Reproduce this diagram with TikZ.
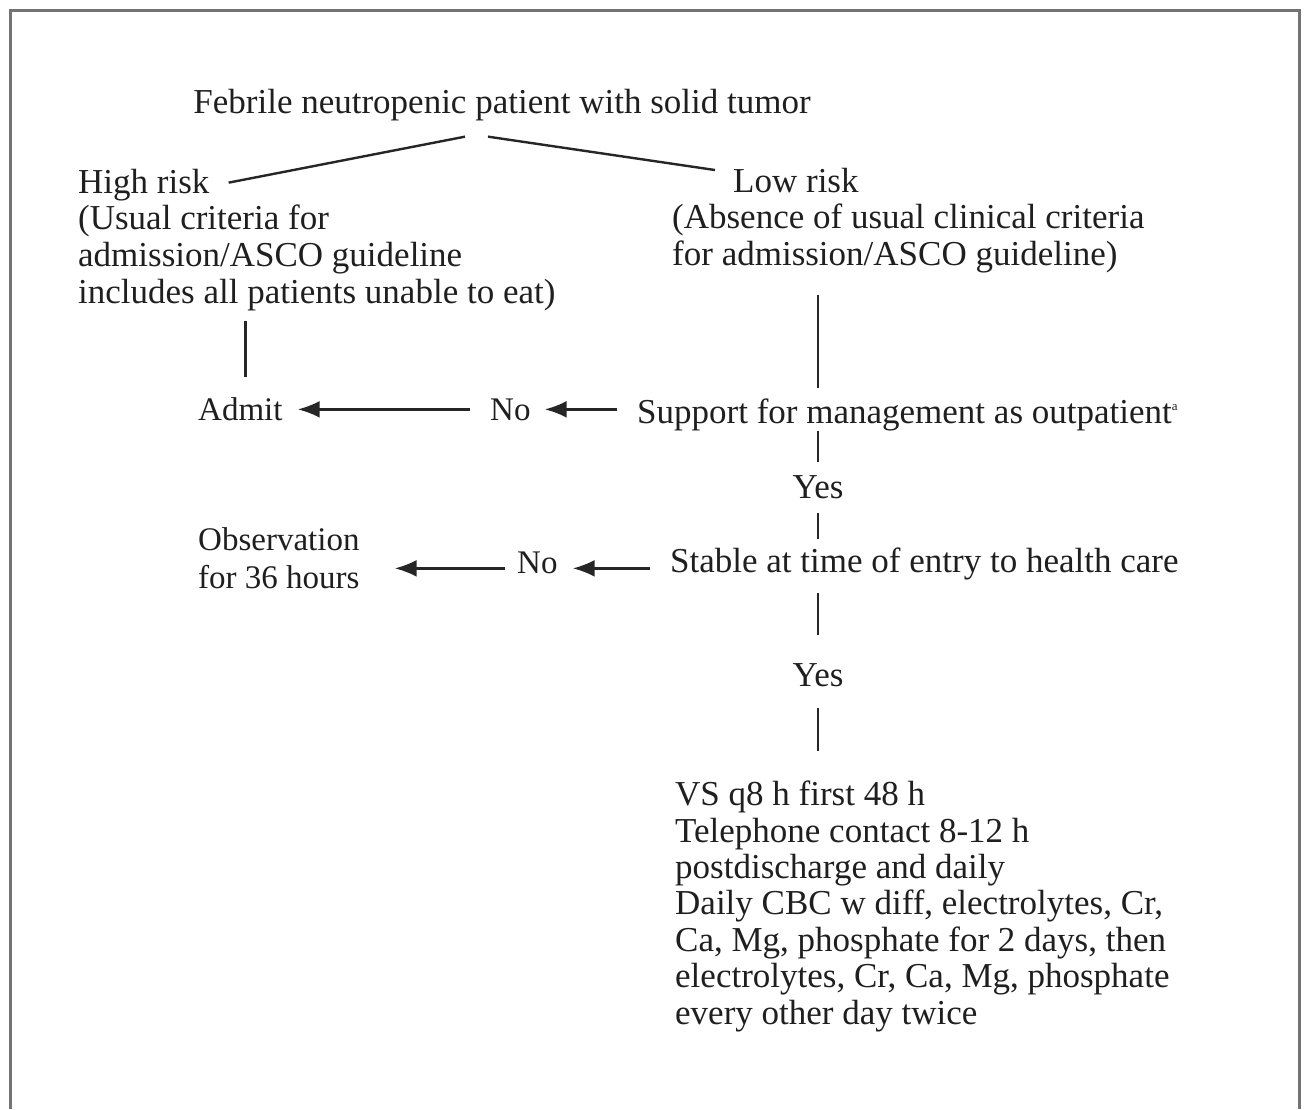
\documentclass[tikz,border=0pt]{standalone}
\usepackage{fontspec}
\setmainfont{Liberation Serif}
\usetikzlibrary{positioning,calc,arrows.meta}

\begin{document}
\begin{tikzpicture}[x=1pt,y=-1pt,
    txt/.style={inner sep=0pt,font=\fontsize{35}{36.8}\selectfont,text=black!88},
    blk/.style={txt,align=left,anchor=base west},
    lbl/.style={inner sep=0pt,font=\fontsize{33}{37.5}\selectfont,text=black!88,anchor=base west},
    link/.style={line width=2.4pt,black!85},
    arr/.style={link,-{Latex[length=22pt,width=17pt]}}]
    \useasboundingbox (0,0) rectangle (1306,1109);
    % frame
    \draw[line width=3pt,black!55] (10,1109) -- (10,10) -- (1299,10) -- (1299,1109);
    % risk split (multi-line nodes sit on their last baseline)
    \node[txt,anchor=base] (patient) at (502,113) {Febrile neutropenic patient with solid tumor};
    \node[blk] (high) at (78,193) {High risk};
    \node[blk] (highcrit) at (78,303) {(Usual criteria for\\admission/ASCO guideline\\includes all patients unable to eat)};
    \node[blk] (low) at (733,192) {Low risk};
    \node[blk] (lowcrit) at (672,265) {(Absence of usual clinical criteria\\for admission/ASCO guideline)};
    % decisions
    \node[blk] (support) at (637,423) {Support for management as outpatient\raisebox{13pt}{\fontsize{13}{13}\selectfont a}};
    \node[lbl] (no1) at (490,420) {No};
    \node[lbl] (admit) at (198,420) {Admit};
    \node[txt,anchor=base] (yes1) at (818,498) {Yes};
    \node[blk] (stable) at (670,572) {Stable at time of entry to health care};
    \node[lbl] (no2) at (517,573) {No};
    \node[lbl,align=left] (obs) at (198,588) {Observation\\for 36 hours};
    \node[txt,anchor=base] (yes2) at (818,686) {Yes};
    \node[blk,font=\fontsize{35}{36.4}\selectfont] (followup) at (675,1024) {VS q8 h first 48 h\\Telephone contact 8-12 h\\postdischarge and daily\\Daily CBC w diff, electrolytes, Cr,\\Ca, Mg, phosphate for 2 days, then\\electrolytes, Cr, Ca, Mg, phosphate\\every other day twice};
    % connectors
    \draw[link] ([shift={(-37,16)}]patient.south) -- ([shift={(19,-2)}]high.east);
    \draw[link] ([shift={(-14,16)}]patient.south) -- ([shift={(-18,-10)}]low.west);
    \draw[link] ($(admit |- highcrit.south)+(5,10)$) -- ($(admit.north)+(5,-20)$);
    \draw[link] ($(yes1 |- lowcrit.south)+(0,22)$) -- ($(yes1 |- support.north)+(0,-10)$);
    \draw[link] (yes1 |- support.south) -- ($(yes1.north)+(0,-13)$);
    \draw[link] ($(yes1.south)+(0,14)$) -- ($(yes1 |- stable.north)+(0,-8)$);
    \draw[link] ($(yes2 |- stable.south)+(0,13)$) -- ($(yes2.north)+(0,-28)$);
    \draw[link] ($(yes2.south)+(0,21)$) -- ($(yes2 |- followup.north)+(0,-30)$);
    % no branches
    \draw[arr] ($(support.west |- no1.east)+(-20,0)$) -- ($(no1.east)+(14,0)$);
    \draw[arr] ($(no1.west)+(-20,0)$) -- ($(admit.east |- no1.west)+(15,0)$);
    \draw[arr] ($(stable.west |- no2.east)+(-20,6)$) -- ($(no2.east)+(15,6)$);
    \draw[arr] ($(no2.west)+(-12,6)$) -- ($(obs.east |- no2.west)+(35,6)$);
\end{tikzpicture}
\end{document}
